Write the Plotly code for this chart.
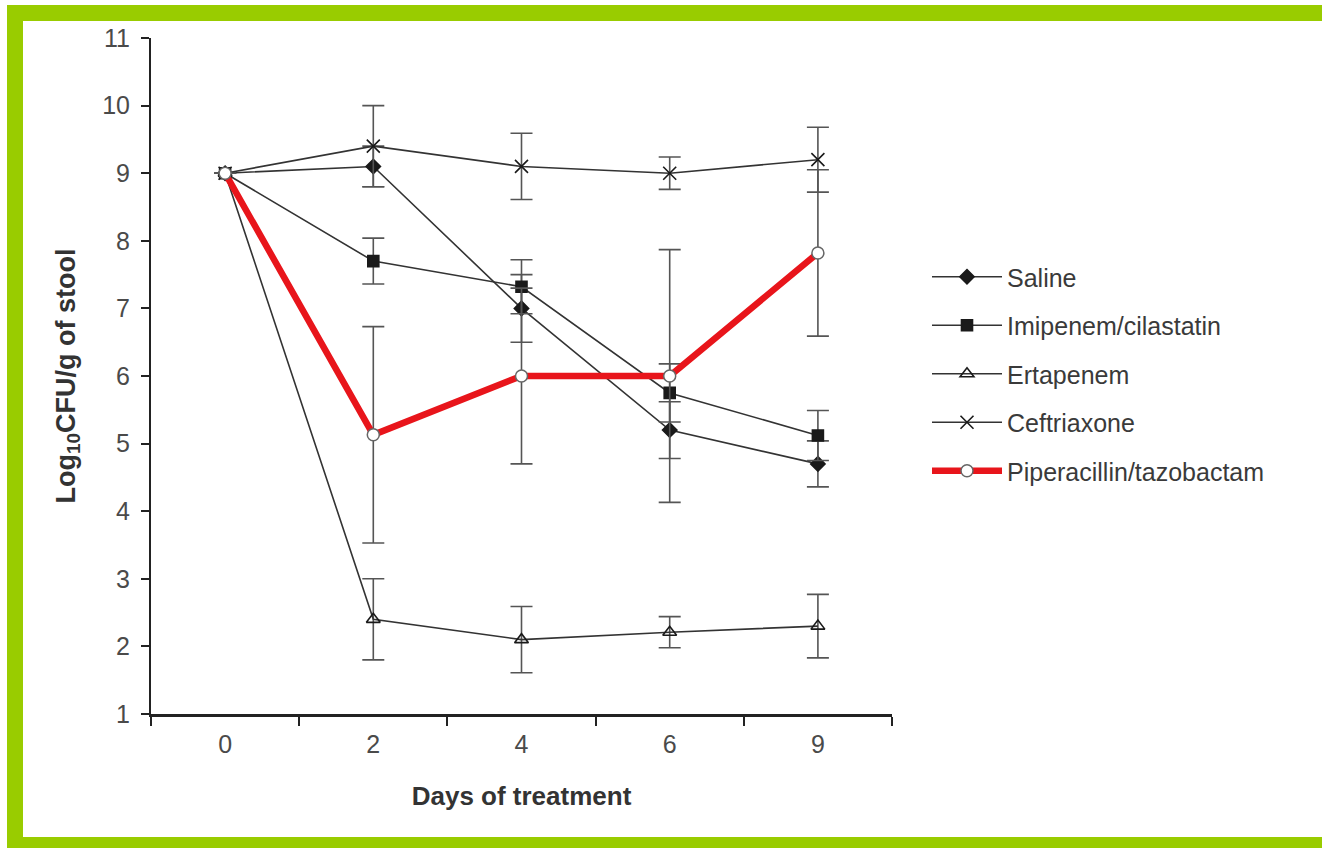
import plotly.graph_objects as go

days = ["0", "2", "4", "6", "9"]

saline = [9.0, 9.1, 7.0, 5.2, 4.7]
saline_err = [0, 0.3, 0.5, 0.42, 0.34]
imipenem = [9.0, 7.7, 7.32, 5.75, 5.12]
imipenem_err = [0, 0.34, 0.4, 0.43, 0.37]
ertapenem = [9.0, 2.4, 2.1, 2.21, 2.3]
ertapenem_err = [0, 0.6, 0.49, 0.23, 0.47]
ceftriaxone = [9.0, 9.4, 9.1, 9.0, 9.2]
ceftriaxone_err = [0, 0.6, 0.49, 0.24, 0.48]
piperacillin = [9.0, 5.13, 6.0, 6.0, 7.82]
piperacillin_err = [0, 1.6, 1.3, 1.87, 1.23]

names = ["Saline", "Imipenem/cilastatin", "Ertapenem", "Ceftriaxone", "Piperacillin/tazobactam"]

W, H = 1322, 848
L, R, T, B = 151, 892, 38, 714


def px(x):
    return (x - L) / (R - L)


def py(y):
    return (B - y) / (B - T)


fig = go.Figure()

line_col = "#333333"
err_col = "#555555"

specs = [
    (saline, saline_err, "diamond", 11),
    (imipenem, imipenem_err, "square", 11),
    (ertapenem, ertapenem_err, "triangle-up-open", 12),
    (ceftriaxone, ceftriaxone_err, "x-thin-open", 13),
]

for i, ((vals, errs, sym, sz), nm) in enumerate(zip(specs, names[:4])):
    fig.add_trace(go.Scatter(
        x=days, y=vals, name=nm, mode="lines+markers", legendgroup=f"g{i}",
        line=dict(color=line_col, width=1.6),
        marker=dict(symbol=sym, size=sz, color="#1a1a1a",
                    line=dict(color="#1a1a1a" if "open" not in sym else line_col, width=1.6)),
        error_y=dict(type="data", array=errs, visible=True,
                     color=err_col, thickness=1.6, width=11),
    ))

fig.add_trace(go.Scatter(
    x=days, y=piperacillin, name=names[4], mode="lines+markers", legendgroup="g4",
    line=dict(color="#e8151b", width=6.5),
    marker=dict(symbol="circle", size=12, color="white",
                line=dict(color="#666666", width=1.5)),
    error_y=dict(type="data", array=piperacillin_err, visible=True,
                 color=err_col, thickness=1.6, width=11),
))

# Green frame
fig.add_shape(type="rect", xref="paper", yref="paper",
              x0=px(7), x1=px(1330), y0=py(5), y1=py(860),
              fillcolor="#99cc00", line=dict(width=0), layer="below")
fig.add_shape(type="rect", xref="paper", yref="paper",
              x0=px(23), x1=px(1330), y0=py(21), y1=py(837),
              fillcolor="white", line=dict(width=0), layer="below")

font_fam = "Liberation Sans, Arial, sans-serif"

fig.update_layout(
    width=W, height=H,
    margin=dict(l=L, r=W - R, t=T, b=H - B, pad=0),
    paper_bgcolor="white", plot_bgcolor="rgba(0,0,0,0)",
    font=dict(family=font_fam, color="#333333", size=24),
    showlegend=True,
    legend=dict(x=px(927), y=py(254), xanchor="left", yanchor="top",
                bgcolor="rgba(0,0,0,0)", font=dict(size=25, color="#3a3a3a"),
                itemwidth=70, tracegroupgap=13),
    xaxis=dict(
        type="category", range=[-0.5, 4.5], tickson="boundaries",
        showgrid=False, zeroline=False,
        showline=True, linecolor="#222222", linewidth=3,
        ticks="outside", ticklen=9, tickwidth=2, tickcolor="#222222",
        ticklabelstandoff=6,
        tickfont=dict(size=25, color="#4a4a4a"),
        title=dict(text="<b>Days of treatment</b>", standoff=30,
                   font=dict(size=26, color="#333333")),
    ),
    yaxis=dict(
        range=[1, 11], dtick=1, tick0=1,
        showgrid=False, zeroline=False,
        showline=True, linecolor="#222222", linewidth=2,
        ticks="outside", ticklen=8, tickwidth=2, tickcolor="#222222",
        ticklabelstandoff=6,
        tickfont=dict(size=25, color="#4a4a4a"),
        title=dict(text="<b>Log<sub>10</sub>CFU/g of stool</b>", standoff=19,
                   font=dict(size=27, color="#333333")),
    ),
)

fig.write_html("out.html")
